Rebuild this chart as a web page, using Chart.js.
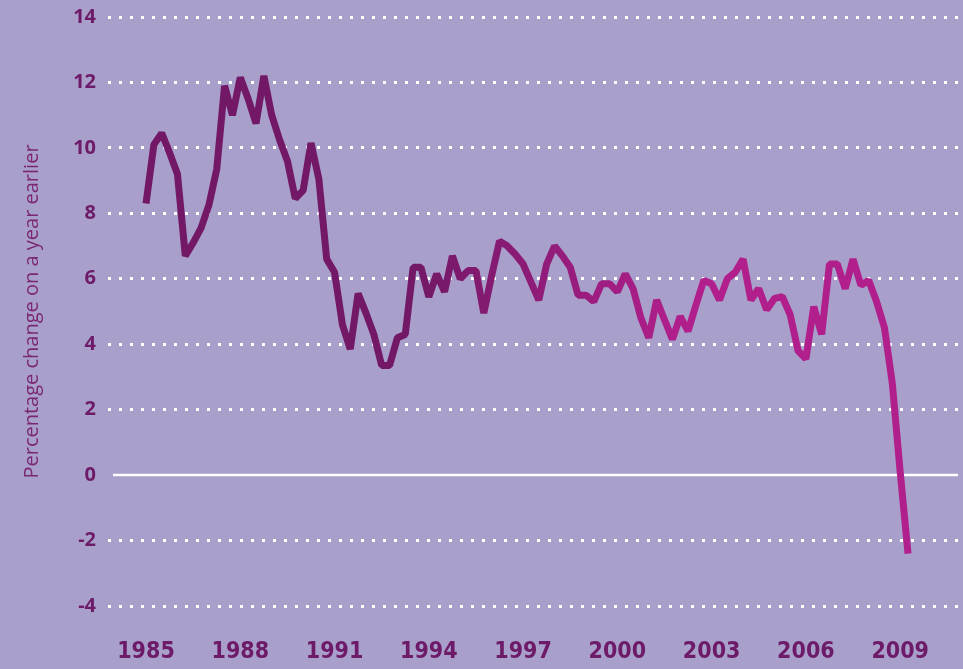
<!DOCTYPE html>
<html>
<head>
<meta charset="utf-8">
<script src="https://cdn.jsdelivr.net/npm/chart.js@4.4.1/dist/chart.umd.min.js"></script>
<style>
  html, body { margin: 0; padding: 0; background: #a99fcb; }
  #wrap { width: 963px; height: 669px; position: relative; }
</style>
</head>
<body>
<div id="wrap"><canvas id="growthChart"></canvas></div>
<script>
// Percentage change on a year earlier, quarterly from 1985 Q1 to 2009 Q2
const firstYear = 1985;
const growth = [
    8.3, 10.1, 10.45, 9.85, 9.2, 6.7, 7.1, 7.55, 8.25, 9.35,
    11.9, 11.0, 12.15, 11.5, 10.75, 12.2, 11.0, 10.25, 9.6, 8.45,
    8.7, 10.15, 9.05, 6.6, 6.2, 4.6, 3.85, 5.55, 4.95, 4.3,
    3.35, 3.35, 4.2, 4.3, 6.35, 6.35, 5.45, 6.15, 5.6, 6.7,
    6.0, 6.25, 6.25, 4.95, 6.1, 7.15, 7.0, 6.75, 6.45, 5.9,
    5.35, 6.45, 7.0, 6.7, 6.35, 5.5, 5.5, 5.3, 5.85, 5.85,
    5.6, 6.15, 5.7, 4.8, 4.2, 5.35, 4.75, 4.15, 4.85, 4.4,
    5.2, 5.95, 5.85, 5.35, 6.0, 6.2, 6.6, 5.35, 5.7, 5.05,
    5.4, 5.45, 4.9, 3.8, 3.55, 5.15, 4.3, 6.45, 6.45, 5.7,
    6.6, 5.8, 5.95, 5.3, 4.5, 2.8, 0.1, -2.4
];
const quarterLabels = growth.map((v, i) => `${firstYear + Math.floor(i / 4)} Q${i % 4 + 1}`);
const yearTicks = [1985, 1988, 1991, 1994, 1997, 2000, 2003, 2006, 2009];
const yTicks = [-4, -2, 0, 2, 4, 6, 8, 10, 12, 14];

const textColor = '#6d1a69';
const lineDark = '#721866';
const lineLight = '#b11f8c';

// solid white line at zero, the other gridlines are dotted
const zeroLine = {
    id: 'zeroLine',
    beforeDatasetsDraw(chart) {
        const { ctx, chartArea, scales } = chart;
        const y = scales.y.getPixelForValue(0);
        ctx.save();
        ctx.strokeStyle = '#ffffff';
        ctx.lineWidth = 2.5;
        ctx.beginPath();
        ctx.moveTo(chartArea.left + 5, y);
        ctx.lineTo(chartArea.right, y);
        ctx.stroke();
        ctx.restore();
    }
};

const ctx = document.getElementById('growthChart').getContext('2d');
new Chart(ctx, {
    type: 'line',
    data: {
        datasets: [{
            label: 'Percentage change on a year earlier',
            data: growth.map((v, i) => ({ x: firstYear + i / 4, y: v, q: quarterLabels[i] })),
            borderColor: function(context) {
                const chart = context.chart;
                if (!chart.chartArea) return lineDark;
                const x0 = chart.scales.x.getPixelForValue(1993.5);
                const x1 = chart.scales.x.getPixelForValue(2002);
                const g = chart.ctx.createLinearGradient(x0, 0, x1, 0);
                g.addColorStop(0, lineDark);
                g.addColorStop(1, lineLight);
                return g;
            },
            borderWidth: 7,
            borderJoinStyle: 'bevel',
            pointRadius: 0,
            tension: 0,
            fill: false
        }]
    },
    options: {
        responsive: true,
        maintainAspectRatio: false,
        animation: false,
        layout: { padding: { top: 0, right: 5, left: 0, bottom: 0 } },
        plugins: {
            legend: { display: false },
            tooltip: { enabled: false }
        },
        scales: {
            x: {
                type: 'linear',
                min: 1983.79,
                max: 2010.84,
                afterBuildTicks: function(scale) {
                    scale.ticks = yearTicks.map(v => ({ value: v }));
                },
                afterFit: function(scale) { scale.height = 63; },
                grid: { display: false, drawTicks: false },
                border: { display: false },
                ticks: {
                    color: textColor,
                    padding: 32,
                    maxRotation: 0,
                    autoSkip: false,
                    font: { family: "'Liberation Sans Narrow', 'DejaVu Sans Condensed', sans-serif", size: 23, weight: 'bold' },
                    callback: value => String(value)
                }
            },
            y: {
                min: -4,
                max: 14,
                afterBuildTicks: function(scale) {
                    scale.ticks = yTicks.map(v => ({ value: v }));
                },
                afterFit: function(scale) {
                    scale.width = 108;
                    scale.paddingTop = 17;
                    scale.paddingBottom = 0;
                },
                grid: {
                    drawTicks: false,
                    lineWidth: 3,
                    color: c => c.tick && c.tick.value === 0 ? 'rgba(0,0,0,0)' : '#ffffff'
                },
                border: { display: false, dash: [3, 8] },
                ticks: {
                    color: textColor,
                    padding: 12,
                    font: { family: "'Open Sans', sans-serif", size: 20, weight: 'bold' }
                },
                title: {
                    display: true,
                    text: 'Percentage change on a year earlier',
                    color: '#7a2873',
                    padding: { top: 20, bottom: 0 },
                    font: { family: "'Open Sans', sans-serif", size: 20 }
                }
            }
        }
    },
    plugins: [zeroLine]
});
</script>
</body>
</html>
